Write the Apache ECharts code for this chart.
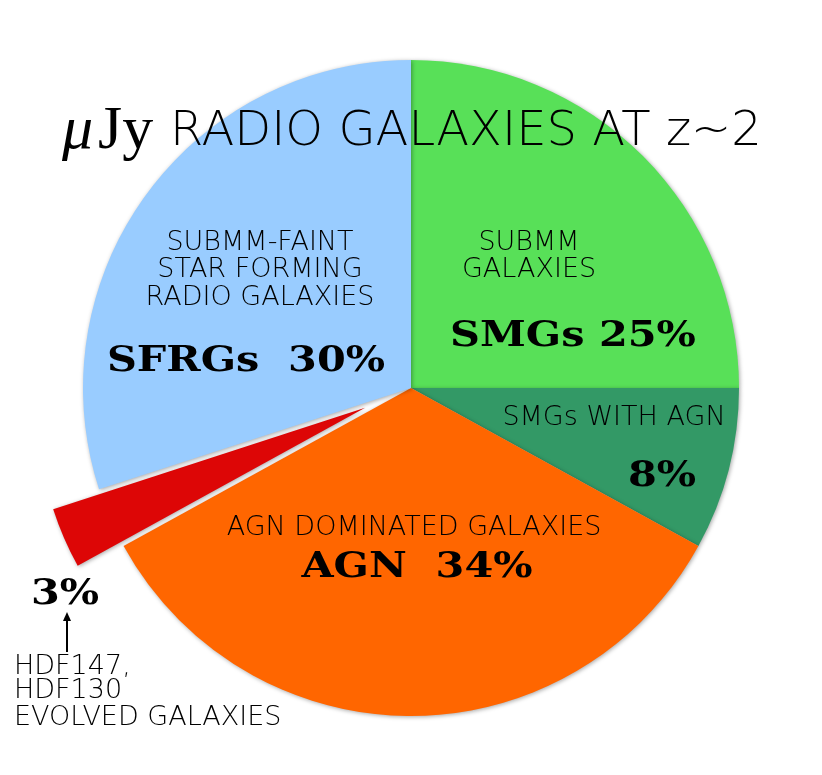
<!DOCTYPE html>
<html>
  <head>
    <meta charset="utf-8" />
    <title>uJy radio galaxies</title>
    <script src="https://cdn.jsdelivr.net/npm/echarts@6/dist/echarts.min.js"></script>
    <style>
      html, body { margin: 0; padding: 0; background: #fff; }
    </style>
  </head>
  <body>
    <div id="main" style="width: 822px;height:775px;"></div>
    <script type="text/javascript">
// slices, clockwise from 12 o'clock
var categories = ['SMGs', 'SMGs with AGN', 'AGN', 'Evolved galaxies', 'SFRGs'];
var shares = [25, 8, 34, 3, 30];
var sliceColors = ['#58e058', '#339966', '#ff6600', '#dd0606', '#99ccff'];

var thin = '200 27px "DejaVu Sans"';
var heavy = 'bold 36px "DejaVu Serif"';

function txt(x, y, text, font, align, sx) {
  return {
    type: 'text', x: x, y: y, z: 100,
    scaleX: sx || 1,
    style: { text: text, font: font, fill: '#000', textAlign: align || 'center', textVerticalAlign: 'middle' }
  };
}

var myChart = echarts.init(document.getElementById('main'));

myChart.setOption({
  animation: false,
  series: [{
    type: 'pie',
    center: [411, 388],
    radius: 328,
    startAngle: 90,
    clockwise: true,
    selectedMode: 'single',
    selectedOffset: 50,
    label: { show: false },
    labelLine: { show: false },
    emphasis: { disabled: true },
    itemStyle: {
      shadowBlur: 4,
      shadowColor: 'rgba(0,0,0,0.35)',
      shadowOffsetX: 1,
      shadowOffsetY: 1
    },
    data: categories.map(function (c, i) {
      return {
        name: c,
        value: shares[i],
        selected: i === 3,
        itemStyle: { color: sliceColors[i] }
      };
    })
  }],
  graphic: [
    // title
    txt(62, 132, 'μ', 'italic 62px "Liberation Serif"', 'left'),
    txt(98, 132, 'Jy', '62px "Liberation Serif"', 'left'),
    txt(170, 133, 'RADIO GALAXIES AT z~2', '200 48px "DejaVu Sans"', 'left'),
    // SFRGs
    txt(260, 243, 'SUBMM-FAINT', thin),
    txt(260, 270, 'STAR FORMING', thin),
    txt(260, 298, 'RADIO GALAXIES', thin),
    txt(246, 362, 'SFRGs  ' + shares[4] + '%', heavy, 'center', 1.15),
    // SMGs
    txt(529, 243, 'SUBMM', thin),
    txt(529, 270, 'GALAXIES', thin),
    txt(573, 337, 'SMGs ' + shares[0] + '%', heavy, 'center', 1.15),
    // SMGs with AGN
    txt(614, 418, 'SMGs WITH AGN', thin),
    txt(662, 477, shares[1] + '%', heavy, 'center', 1.15),
    // AGN
    txt(414, 528, 'AGN DOMINATED GALAXIES', thin),
    txt(417, 568, 'AGN  ' + shares[2] + '%', heavy, 'center', 1.15),
    // evolved
    txt(65, 595, shares[3] + '%', heavy, 'center', 1.15),
    {
      type: 'line', z: 100,
      shape: { x1: 67, y1: 652, x2: 67, y2: 618 },
      style: { stroke: '#000', lineWidth: 2 }
    },
    {
      type: 'polygon', z: 100,
      shape: { points: [[67, 612], [63, 621], [71, 621]] },
      style: { fill: '#000' }
    },
    txt(14, 667, 'HDF147,', thin, 'left'),
    txt(14, 691, 'HDF130', thin, 'left'),
    txt(14, 718, 'EVOLVED GALAXIES', thin, 'left')
  ]
});
    </script>
  </body>
</html>
